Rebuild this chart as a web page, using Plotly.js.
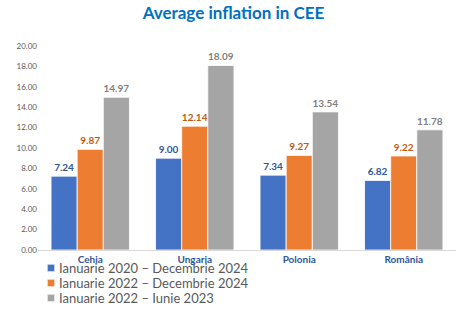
<!DOCTYPE html>
<html>
<head>
<meta charset="utf-8">
<script src="https://cdn.plot.ly/plotly-3.0.1.min.js"></script>
<style>
html,body{margin:0;padding:0;background:#fff;}
#chart{width:467px;height:330px;}
#chart .legendpoints path{transform:translate(32px,0px) scale(0.6);}
</style>
</head>
<body>
<div id="chart"></div>
<script>
const categories = ["Cehia", "Ungaria", "Polonia", "România"];
const seriesNames = ["Ianuarie 2020 – Decembrie 2024", "Ianuarie 2022 – Decembrie 2024", "Ianuarie 2022 – Iunie 2023"];
const series2020_2024 = [7.24, 9.00, 7.34, 6.82];
const series2022_2024 = [9.87, 12.14, 9.27, 9.22];
const series2022_2023 = [14.97, 18.09, 13.54, 11.78];
const yTicks = [0, 2, 4, 6, 8, 10, 12, 14, 16, 18, 20];

const barColors = ["#4472C4", "#ED7D31", "#A5A5A5"];
const labelColors = ["#2F5597", "#C55A11", "#7F7F7F"];
const allValues = [series2020_2024, series2022_2024, series2022_2023];
const legendIds = ["legend", "legend2", "legend3"];
const legendRowsPx = [268, 283, 298];

const traces = allValues.map((vals, i) => ({
  type: "bar",
  name: seriesNames[i],
  legend: legendIds[i],
  x: categories,
  y: vals,
  text: vals.map(v => "<b>" + v.toFixed(2) + "</b>"),
  textposition: "outside",
  cliponaxis: false,
  textfont: {family: "Lato, 'Open Sans', sans-serif", size: 10, color: labelColors[i]},
  marker: {color: barColors[i], line: {color: "#ffffff", width: 0.8}},
  hoverinfo: "none"
}));

const layout = {
  width: 467, height: 330,
  paper_bgcolor: "#ffffff", plot_bgcolor: "#ffffff",
  margin: {l: 38, r: 11, t: 46, b: 80, autoexpand: false},
  font: {family: "Lato, 'Open Sans', sans-serif", color: "#595959"},
  title: {text: "<b>Average inflation in CEE</b>", x: 0.5, xref: "container", xanchor: "center",
          y: 1 - 13 / 330, yref: "container", yanchor: "middle",
          font: {family: "Lato, 'Open Sans', sans-serif", size: 17, color: "#0070C0"}},
  barmode: "group", bargap: 0.25, bargroupgap: 0,
  xaxis: {showgrid: false, showline: true, linecolor: "#D9D9D9", linewidth: 1, ticks: "",
          tickfont: {size: 10, color: "#2F5597", weight: 700}, fixedrange: true},
  yaxis: {range: [0, 20], tickvals: yTicks, tickformat: ".2f", showgrid: false, zeroline: false, showline: false,
          ticks: "", tickfont: {size: 8, color: "#595959"}, fixedrange: true},
  showlegend: true
};

legendIds.forEach((id, i) => {
  layout[id] = {
    xref: "container", yref: "container",
    x: 19 / 467, xanchor: "left",
    y: 1 - legendRowsPx[i] / 330, yanchor: "middle",
    orientation: "v",
    font: {size: 13, color: "#595959"}, bgcolor: "rgba(0,0,0,0)", itemwidth: 30
  };
});

Plotly.newPlot("chart", traces, layout, {displayModeBar: false, staticPlot: true});
</script>
</body>
</html>
